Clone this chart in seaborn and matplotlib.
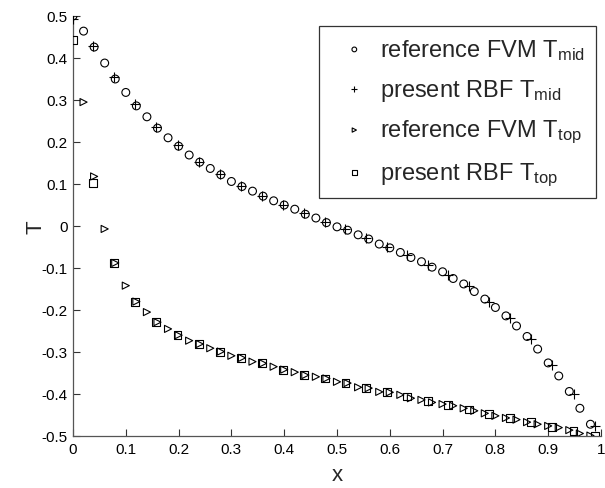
import matplotlib
matplotlib.use("Agg")
import matplotlib.pyplot as plt
import seaborn as sns
from matplotlib.ticker import FixedLocator, FuncFormatter

# ---- data ----
x_fvm = [0.00, 0.02, 0.04, 0.06, 0.08, 0.10, 0.12, 0.14, 0.16, 0.18,
         0.20, 0.22, 0.24, 0.26, 0.28, 0.30, 0.32, 0.34, 0.36, 0.38,
         0.40, 0.42, 0.44, 0.46, 0.48, 0.50, 0.52, 0.54, 0.56, 0.58,
         0.60, 0.62, 0.64, 0.66, 0.68, 0.70, 0.72, 0.74, 0.76, 0.78,
         0.80, 0.82, 0.84, 0.86, 0.88, 0.90, 0.92, 0.94, 0.96, 0.98]
t_mid_fvm = [0.500, 0.464, 0.426, 0.388, 0.350, 0.318, 0.286, 0.260, 0.233, 0.210,
             0.190, 0.169, 0.152, 0.137, 0.122, 0.106, 0.094, 0.083, 0.071, 0.060,
             0.050, 0.040, 0.028, 0.019, 0.008, -0.002, -0.010, -0.021, -0.031, -0.043,
             -0.052, -0.063, -0.075, -0.085, -0.098, -0.109, -0.125, -0.138, -0.156, -0.174,
             -0.194, -0.214, -0.238, -0.263, -0.293, -0.326, -0.357, -0.394, -0.434, -0.472]
x_fvm_top = x_fvm[1:]
t_top_fvm = [0.295, 0.118, -0.007, -0.088, -0.142, -0.180, -0.205, -0.229, -0.245,
             -0.260, -0.273, -0.281, -0.291, -0.299, -0.309, -0.314, -0.323, -0.327, -0.335,
             -0.342, -0.348, -0.355, -0.359, -0.363, -0.371, -0.374, -0.384, -0.386, -0.395,
             -0.396, -0.402, -0.410, -0.414, -0.420, -0.424, -0.428, -0.434, -0.440, -0.446,
             -0.452, -0.457, -0.461, -0.467, -0.472, -0.476, -0.480, -0.486, -0.494, -0.499]

x_rbf = [0.000, 0.038, 0.077, 0.117, 0.158, 0.198, 0.238, 0.278, 0.318, 0.358,
         0.398, 0.437, 0.477, 0.516, 0.555, 0.594, 0.633, 0.672, 0.711, 0.750,
         0.788, 0.828, 0.868, 0.908, 0.948, 0.988]
t_mid_rbf = [0.493, 0.429, 0.355, 0.290, 0.235, 0.192, 0.153, 0.123, 0.095, 0.072,
             0.051, 0.031, 0.010, -0.008, -0.029, -0.049, -0.070, -0.092, -0.116, -0.144,
             -0.180, -0.218, -0.268, -0.330, -0.399, -0.475]
t_top_rbf = [0.443, 0.102, -0.088, -0.180, -0.229, -0.260, -0.281, -0.299, -0.314, -0.327,
             -0.342, -0.355, -0.363, -0.374, -0.386, -0.396, -0.406, -0.417, -0.426, -0.437,
             -0.447, -0.457, -0.467, -0.478, -0.488, -0.499]

labels = [r"reference FVM T$_{\mathrm{mid}}$", r"present RBF T$_{\mathrm{mid}}$",
          r"reference FVM T$_{\mathrm{top}}$", r"present RBF T$_{\mathrm{top}}$"]
xticks = [0, 0.1, 0.2, 0.3, 0.4, 0.5, 0.6, 0.7, 0.8, 0.9, 1]
yticks = [-0.5, -0.4, -0.3, -0.2, -0.1, 0, 0.1, 0.2, 0.3, 0.4, 0.5]

# ---- style ----
sns.set_theme(style="white")
plt.rcParams['font.family'] = ['Liberation Sans', 'DejaVu Sans']
plt.rcParams['mathtext.fontset'] = 'custom'
plt.rcParams['mathtext.rm'] = 'Liberation Sans'
plt.rcParams['mathtext.it'] = 'Liberation Sans:italic'
plt.rcParams['axes.unicode_minus'] = False

fig = plt.figure(figsize=(6.05, 4.89), dpi=100)
ax = fig.add_axes([73/605, 1-437/489, 528/605, 420/489])

sns.scatterplot(x=x_fvm, y=t_mid_fvm, ax=ax, marker='o', s=32, facecolors='none',
                edgecolor='black', linewidth=0.8, label=labels[0], zorder=3)
sns.scatterplot(x=x_rbf, y=t_mid_rbf, ax=ax, marker='+', s=50, color='black',
                linewidth=0.8, label=labels[1], zorder=4)
sns.scatterplot(x=x_fvm_top, y=t_top_fvm, ax=ax, marker='>', s=26, facecolors='none',
                edgecolor='black', linewidth=0.8, label=labels[2], zorder=3)
sns.scatterplot(x=x_rbf, y=t_top_rbf, ax=ax, marker='s', s=32, facecolors='none',
                edgecolor='black', linewidth=0.8, label=labels[3], zorder=4)

ax.set_xlim(0, 1)
ax.set_ylim(-0.5, 0.5)
ax.xaxis.set_major_locator(FixedLocator(xticks))
ax.yaxis.set_major_locator(FixedLocator(yticks))
fmt = FuncFormatter(lambda v, p: ("%g" % round(v, 2)))
ax.xaxis.set_major_formatter(fmt)
ax.yaxis.set_major_formatter(fmt)
ax.tick_params(direction='in', length=5, width=0.8, labelsize=11, colors='#333333',
               labelcolor='black', bottom=True, left=True, top=False, right=False, pad=4)
for side in ['top', 'right']:
    ax.spines[side].set_visible(False)
for side in ['left', 'bottom']:
    ax.spines[side].set_color('#555555')
    ax.spines[side].set_linewidth(0.9)
ax.set_xlabel('x', fontsize=16, labelpad=6)
ax.set_ylabel('T', fontsize=16, labelpad=-4, rotation=90)

leg = ax.legend(loc='upper right', bbox_to_anchor=((596-73)/528, (437-27)/420),
                borderaxespad=0, frameon=True, fancybox=False, edgecolor='black',
                fontsize=17, markerscale=0.6, handletextpad=0.05, labelspacing=0.64,
                borderpad=0.45, handlelength=2.1)
leg.get_frame().set_linewidth(0.9)

fig.savefig('out.png', dpi=100)
